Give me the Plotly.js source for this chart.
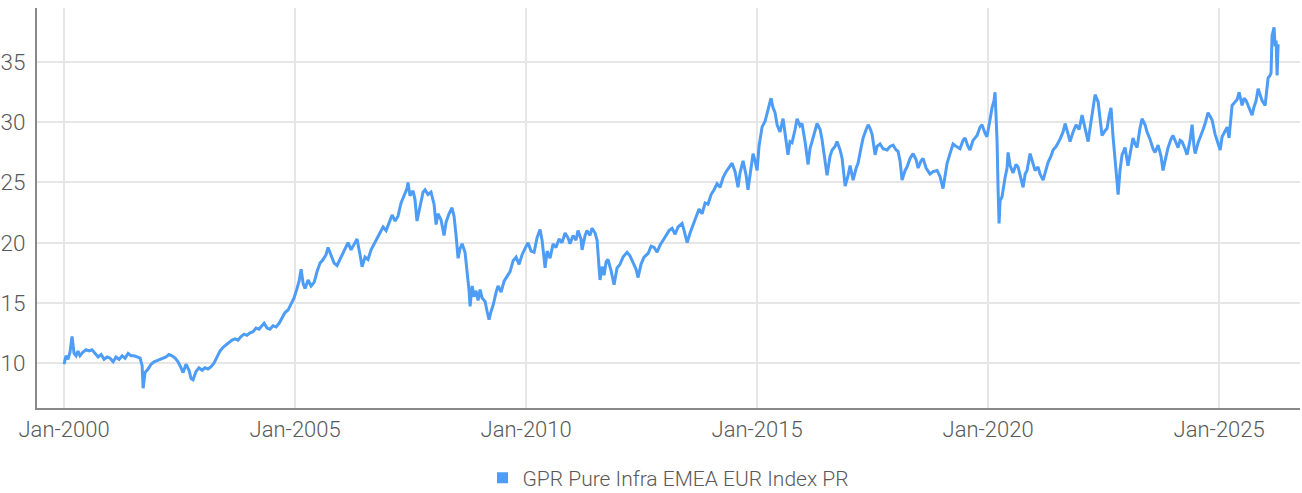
<!DOCTYPE html>
<html>
<head>
<meta charset="utf-8">
<script src="https://cdn.plot.ly/plotly-3.0.1.min.js"></script>
<style>
html,body{margin:0;padding:0;background:#fff;}
#chart{width:1302px;height:493px;}
</style>
</head>
<body>
<div id="chart"></div>
<script>
const seriesName = 'GPR Pure Infra EMEA EUR Index PR';
const tickLabels = ['Jan-2000','Jan-2005','Jan-2010','Jan-2015','Jan-2020','Jan-2025'];
const tickDates = ['2000-01-01','2005-01-01','2010-01-01','2015-01-01','2020-01-01','2025-01-01'];

// decimal years
const years = [
2000.000,2000.043,2000.087,2000.130,2000.173,2000.216,2000.260,2000.303,2000.346,2000.411,2000.476,2000.541,2000.606,2000.671,2000.736,2000.801,2000.866,2000.931,2000.996,
2001.061,2001.126,2001.190,2001.255,2001.320,2001.385,2001.450,2001.515,2001.580,2001.645,2001.688,2001.710,2001.753,2001.818,2001.883,2001.948,
2002.013,2002.078,2002.143,2002.208,2002.273,2002.338,2002.403,2002.468,2002.532,2002.576,2002.641,2002.706,2002.749,2002.792,2002.857,2002.922,2002.987,
2003.052,2003.117,2003.182,2003.247,2003.312,2003.377,2003.442,2003.506,2003.571,2003.636,2003.701,2003.766,2003.831,2003.896,2003.961,
2004.026,2004.091,2004.156,2004.221,2004.286,2004.329,2004.394,2004.459,2004.524,2004.589,2004.654,2004.719,2004.784,2004.848,2004.913,2004.978,
2005.043,2005.087,2005.130,2005.173,2005.216,2005.281,2005.346,2005.411,2005.476,2005.541,2005.606,2005.671,2005.714,2005.779,2005.844,2005.909,2005.974,
2006.039,2006.104,2006.147,2006.212,2006.277,2006.342,2006.407,2006.450,2006.515,2006.580,2006.645,2006.732,2006.818,2006.905,2006.970,
2007.035,2007.100,2007.165,2007.229,2007.294,2007.359,2007.424,2007.446,2007.489,2007.554,2007.597,2007.641,2007.706,2007.771,2007.814,2007.879,2007.944,
2008.009,2008.052,2008.095,2008.160,2008.225,2008.268,2008.333,2008.398,2008.442,2008.485,2008.528,2008.571,2008.615,2008.680,2008.723,2008.766,2008.788,2008.831,2008.874,2008.918,2008.961,
2009.004,2009.048,2009.113,2009.156,2009.199,2009.242,2009.286,2009.351,2009.394,2009.459,2009.524,2009.589,2009.654,2009.719,2009.784,2009.848,2009.913,2009.978,
2010.043,2010.108,2010.173,2010.238,2010.303,2010.346,2010.411,2010.455,2010.519,2010.584,2010.649,2010.714,2010.779,2010.844,2010.909,2010.952,
2011.017,2011.082,2011.126,2011.190,2011.212,2011.277,2011.320,2011.385,2011.429,2011.494,2011.537,2011.580,2011.602,2011.645,2011.688,2011.732,2011.775,2011.840,2011.905,2011.970,
2012.035,2012.100,2012.186,2012.251,2012.316,2012.381,2012.424,2012.489,2012.554,2012.641,2012.706,2012.771,2012.836,2012.900,2012.965,
2013.030,2013.095,2013.160,2013.225,2013.290,2013.377,2013.420,2013.485,2013.550,2013.615,2013.680,2013.745,2013.810,2013.874,2013.939,
2014.004,2014.069,2014.134,2014.199,2014.264,2014.329,2014.394,2014.459,2014.524,2014.589,2014.632,2014.697,2014.762,2014.805,2014.848,2014.913,2014.957,
2015.000,2015.043,2015.108,2015.173,2015.238,2015.303,2015.346,2015.390,2015.433,2015.498,2015.563,2015.606,2015.671,2015.714,2015.758,2015.823,2015.866,2015.931,2015.974,
2016.039,2016.104,2016.147,2016.190,2016.255,2016.299,2016.364,2016.407,2016.472,2016.515,2016.580,2016.623,2016.688,2016.732,2016.797,2016.840,2016.905,2016.970,
2017.013,2017.078,2017.143,2017.186,2017.251,2017.294,2017.359,2017.403,2017.446,2017.489,2017.554,2017.597,2017.662,2017.727,2017.814,2017.879,2017.944,
2018.009,2018.052,2018.095,2018.139,2018.203,2018.247,2018.312,2018.377,2018.442,2018.485,2018.550,2018.593,2018.658,2018.745,2018.810,2018.896,2018.961,
2019.026,2019.069,2019.113,2019.177,2019.242,2019.307,2019.394,2019.459,2019.502,2019.567,2019.610,2019.675,2019.762,2019.827,2019.870,2019.935,2019.978,
2020.043,2020.087,2020.130,2020.152,2020.173,2020.195,2020.216,2020.238,2020.260,2020.303,2020.368,2020.411,2020.433,2020.476,2020.541,2020.606,2020.649,2020.693,2020.758,2020.801,2020.844,2020.909,2020.952,
2021.017,2021.082,2021.126,2021.190,2021.255,2021.299,2021.364,2021.407,2021.472,2021.558,2021.623,2021.667,2021.732,2021.775,2021.840,2021.905,2021.970,
2022.035,2022.100,2022.165,2022.208,2022.273,2022.316,2022.381,2022.424,2022.468,2022.532,2022.576,2022.619,2022.662,2022.706,2022.749,2022.792,2022.814,2022.857,2022.900,2022.965,
2023.030,2023.074,2023.139,2023.182,2023.225,2023.290,2023.333,2023.398,2023.442,2023.506,2023.571,2023.615,2023.680,2023.745,2023.788,2023.831,2023.896,2023.961,
2024.004,2024.069,2024.113,2024.156,2024.199,2024.264,2024.307,2024.372,2024.416,2024.459,2024.481,2024.545,2024.589,2024.654,2024.697,2024.762,2024.805,2024.848,2024.913,2024.957,
2025.022,2025.065,2025.108,2025.173,2025.216,2025.260,2025.281,2025.346,2025.390,2025.433,2025.498,2025.541,2025.584,2025.628,2025.671,2025.714,2025.758,2025.801,2025.844,2025.887,2025.931,2025.996,
2026.039,2026.061,2026.104,2026.126,2026.147,2026.169,2026.190,2026.212,2026.234,2026.255,2026.277
];

const values = [
9.9,10.6,10.3,10.9,12.2,10.8,10.6,11.0,10.6,10.9,11.1,11.0,11.1,10.8,10.5,10.7,10.3,10.5,10.4,
10.1,10.5,10.3,10.6,10.4,10.8,10.6,10.6,10.5,10.4,9.8,7.9,9.2,9.5,9.9,10.1,
10.2,10.3,10.4,10.5,10.7,10.6,10.4,10.1,9.6,9.2,9.9,9.4,8.7,8.6,9.3,9.6,9.4,
9.6,9.5,9.7,10.0,10.5,11.0,11.3,11.5,11.7,11.9,12.0,11.9,12.2,12.4,12.3,
12.5,12.6,12.9,12.8,13.1,13.3,12.9,12.8,13.1,13.0,13.3,13.8,14.2,14.4,14.9,15.4,
16.2,16.8,17.8,16.6,16.2,16.9,16.4,16.7,17.6,18.3,18.6,19.0,19.6,18.9,18.3,18.1,18.6,
19.2,19.6,20.0,19.4,19.8,20.3,19.0,18.0,18.8,18.6,19.4,20.0,20.6,21.3,21.0,
21.6,22.3,21.8,22.2,23.3,23.9,24.5,25.0,23.9,24.3,23.6,21.8,23.1,24.2,24.4,24.0,24.2,
23.2,21.5,22.4,21.9,20.6,21.7,22.4,22.9,22.2,20.6,18.7,19.5,19.9,19.2,17.7,16.0,14.7,16.4,15.5,16.0,15.2,
16.1,15.4,15.1,14.3,13.6,14.3,14.8,15.9,16.4,15.9,16.8,17.2,17.6,18.5,18.8,18.2,19.0,19.5,
20.0,19.3,19.2,20.4,21.1,20.2,17.9,19.3,18.7,19.9,19.6,20.3,20.0,20.8,20.4,19.9,
20.6,20.2,21.0,20.3,19.4,20.6,21.0,20.6,21.2,20.8,20.2,18.0,16.9,18.0,17.3,18.4,18.6,17.7,16.5,17.9,
18.2,18.8,19.2,18.9,18.3,17.8,17.1,18.2,18.8,19.1,19.7,19.6,19.2,19.8,20.2,
20.6,21.0,21.2,20.7,21.3,21.6,21.0,20.0,20.8,21.5,22.3,22.8,22.4,23.3,23.2,
24.0,24.4,24.9,24.6,25.4,25.9,26.2,26.6,25.9,24.6,25.8,26.8,25.6,24.4,25.6,27.4,26.8,
26.0,28.0,29.6,30.1,31.0,32.0,31.2,30.8,29.8,29.2,30.3,29.0,27.3,28.4,28.3,29.4,30.3,29.7,29.9,
28.4,26.5,27.8,28.5,29.3,29.9,29.4,28.6,27.0,25.6,27.2,27.7,28.0,28.4,27.7,27.0,24.7,25.6,
26.4,25.2,26.2,26.6,27.9,28.7,29.4,29.8,29.5,29.0,27.3,28.0,28.2,27.8,27.7,28.0,28.1,
27.7,27.6,26.8,25.2,26.0,26.3,27.0,27.4,26.9,26.2,26.8,27.0,26.2,25.7,25.9,26.0,25.5,
24.5,25.6,26.6,27.4,28.2,28.0,27.8,28.5,28.7,28.0,27.7,28.5,28.9,29.6,29.8,29.1,28.8,
30.2,31.2,31.8,32.5,30.5,28.5,24.5,21.6,23.5,23.8,25.4,26.2,27.5,26.4,25.8,26.5,26.3,25.5,24.6,25.7,26.0,27.4,26.8,
26.0,26.3,25.7,25.2,26.0,26.7,27.2,27.7,28.0,28.6,29.2,29.9,29.0,28.4,29.2,29.8,29.4,
30.6,29.5,28.4,29.5,31.0,32.3,31.7,30.2,28.9,29.3,29.5,30.5,31.2,28.8,26.5,25.0,24.0,26.0,27.3,27.9,
26.4,27.5,28.7,28.2,27.9,29.5,30.3,29.8,29.2,28.6,27.8,27.5,28.1,27.2,26.0,26.8,27.9,28.6,
28.9,28.3,27.9,28.5,28.4,27.8,27.3,28.5,29.8,28.0,27.4,28.3,28.7,29.4,29.9,30.8,30.5,30.2,29.0,28.5,
27.7,28.8,29.1,29.6,28.7,30.5,31.4,31.7,31.9,32.5,31.4,32.0,31.8,31.4,31.0,30.6,31.3,31.8,32.8,32.2,31.8,31.4,
32.8,33.7,33.9,34.1,37.2,37.6,37.9,36.3,36.8,33.9,36.5
];

function toDate(y){
  const yr = Math.floor(y);
  const s = Date.UTC(yr,0,1), e = Date.UTC(yr+1,0,1);
  return new Date(s + (y-yr)*(e-s)).toISOString().slice(0,10);
}
const dates = years.map(toDate);

const FONT = 'Roboto, "Noto Sans", sans-serif';
const TXT = '#595959';
const LINE = '#4d9cf5';
const fnt = (s) => ({family: FONT, size: s, color: TXT, weight: 300});

const traces = [
  {x: dates, y: values, type: 'scatter', mode: 'lines', name: seriesName,
   line: {color: LINE, width: 3}, showlegend: false, hoverinfo: 'x+y'},
  {x: [null], y: [null], type: 'scatter', mode: 'markers', name: seriesName,
   marker: {color: LINE, symbol: 'square', size: 11}, showlegend: true}
];

const layout = {
  width: 1302, height: 493,
  margin: {l: 37, r: 2, t: 8, b: 85, autoexpand: false},
  paper_bgcolor: '#fff', plot_bgcolor: '#fff',
  font: fnt(22),
  showlegend: true,
  legend: {orientation: 'h', x: 0.5, xanchor: 'center', y: -0.175, yanchor: 'middle',
           font: fnt(21), itemwidth: 30},
  xaxis: {
    type: 'date', range: ['1999-06-01', '2026-10-02'],
    tickvals: tickDates, ticktext: tickLabels,
    showgrid: true, gridcolor: '#e6e6e6', gridwidth: 2,
    showline: true, linecolor: '#888', linewidth: 2,
    ticks: '', ticklabelstandoff: 1, zeroline: false, automargin: false,
    tickfont: fnt(22)
  },
  yaxis: {
    range: [6.26, 39.5], tick0: 0, dtick: 5,
    showgrid: true, gridcolor: '#e6e6e6', gridwidth: 2,
    showline: true, linecolor: '#888', linewidth: 2,
    ticks: '', ticklabelstandoff: 5, zeroline: false, automargin: false,
    tickfont: fnt(22.5)
  }
};

Plotly.newPlot('chart', traces, layout, {displayModeBar: false, staticPlot: true});
</script>
</body>
</html>
